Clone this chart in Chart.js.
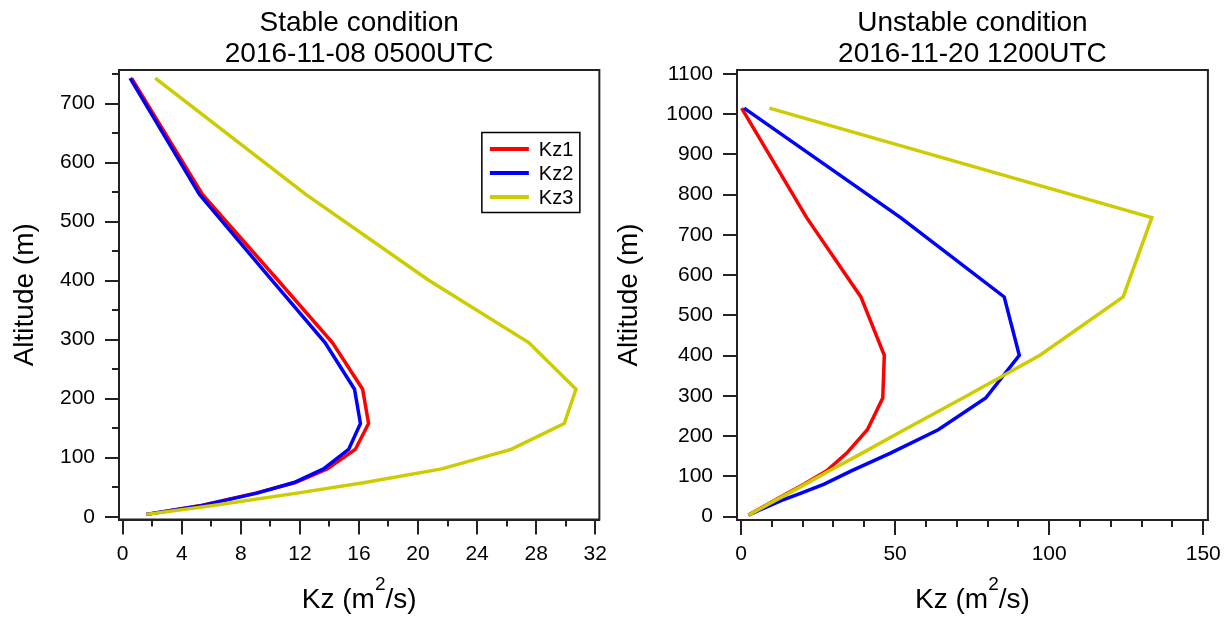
<!DOCTYPE html>
<html>
<head>
<meta charset="utf-8">
<title>Kz profiles</title>
<script src="https://cdn.jsdelivr.net/npm/chart.js@4.4.1/dist/chart.umd.min.js"></script>
<style>
  html, body { margin: 0; padding: 0; background: #fff; }
  #wrap { position: relative; width: 1228px; height: 617px; }
  .panel { position: absolute; top: 0; width: 614px; height: 617px; }
  #stablePanel { left: 0; }
  #unstablePanel { left: 614px; }
</style>
</head>
<body>
<div id="wrap">
  <div class="panel" id="stablePanel"><canvas id="stableChart" width="614" height="617"></canvas></div>
  <div class="panel" id="unstablePanel"><canvas id="unstableChart" width="614" height="617"></canvas></div>
</div>
<script>
// Stable case, 2016-11-08 0500UTC (altitude in m, Kz in m2/s)
const stableAltitude = [4, 18, 40, 58, 81, 114, 158, 216, 295, 401, 546, 743];
const stableKz1 = [1.6, 5.1, 9.0, 11.7, 13.85, 15.75, 16.65, 16.25, 14.2, 10.5, 5.4, 0.6];
const stableKz2 = [1.6, 5.2, 9.1, 11.6, 13.6, 15.3, 16.1, 15.7, 13.7, 10.1, 5.2, 0.5];
const stableKz3 = [1.6, 5.9, 11.8, 16.4, 21.6, 26.3, 29.9, 30.7, 27.5, 20.7, 12.4, 2.2];

// Unstable case, 2016-11-20 1200UTC
const unstableAltitude = [4, 18, 40, 58, 81, 114, 158, 216, 295, 401, 546, 743, 1015];
const unstableKz1 = [2.4, 5.6, 10.8, 15.0, 20.5, 27.8, 34.3, 41.0, 46.0, 46.5, 38.9, 21.3, 0.2];
const unstableKz2 = [2.4, 6.5, 13.0, 19.3, 27.0, 35.8, 48.5, 64.0, 79.4, 90.3, 85.4, 51.8, 1.0];
const unstableKz3 = [2.4, 5.8, 11.0, 15.4, 20.9, 28.7, 39.3, 53.0, 72.0, 97.0, 124.0, 133.3, 9.2];

// tick values
const stableKzTicks = [0, 4, 8, 12, 16, 20, 24, 28, 32];
const stableKzMinor = [2, 6, 10, 14, 18, 22, 26, 30];
const stableAltTicks = [0, 100, 200, 300, 400, 500, 600, 700];
const stableAltMinor = [50, 150, 250, 350, 450, 550, 650, 750];
const unstableKzTicks = [0, 50, 100, 150];
const unstableKzMinor = [10, 20, 30, 40, 60, 70, 80, 90, 110, 120, 130, 140];
const unstableAltTicks = [0, 100, 200, 300, 400, 500, 600, 700, 800, 900, 1000, 1100];

const seriesNames = ['Kz1', 'Kz2', 'Kz3'];
const seriesColors = ['#ff0000', '#0000ff', '#cccc00'];

const FONT = "'Liberation Sans', Arial, sans-serif";
const AXIS_COLOR = '#222';

// two-line heading centred over the plot area
const heading = {
  id: 'heading',
  afterDraw(chart, args, opts) {
    const { ctx, chartArea } = chart;
    const cx = (chartArea.left + chartArea.right) / 2;
    ctx.save();
    ctx.fillStyle = '#000';
    ctx.font = '28px ' + FONT;
    ctx.textAlign = 'center';
    ctx.textBaseline = 'alphabetic';
    (opts.lines || []).forEach((line, i) => {
      ctx.fillText(line, cx, 31 + i * 31.2);
    });
    ctx.restore();
  }
};

// box around the plot area
const frame = {
  id: 'frame',
  afterDraw(chart) {
    const { ctx, chartArea: a } = chart;
    ctx.save();
    ctx.strokeStyle = AXIS_COLOR;
    ctx.lineWidth = 2;
    ctx.strokeRect(a.left, a.top, a.right - a.left, a.bottom - a.top);
    ctx.restore();
  }
};

// short ticks between the labelled ones
const minorTicks = {
  id: 'minorTicks',
  afterDraw(chart, args, opts) {
    const { ctx } = chart;
    const xs = chart.scales.x, ys = chart.scales.y;
    ctx.save();
    ctx.strokeStyle = AXIS_COLOR;
    ctx.lineWidth = 2;
    ctx.beginPath();
    (opts.x || []).forEach(v => {
      const px = Math.round(xs.getPixelForValue(v));
      ctx.moveTo(px, xs.top);
      ctx.lineTo(px, xs.top + opts.length);
    });
    (opts.y || []).forEach(v => {
      const py = Math.round(ys.getPixelForValue(v));
      ctx.moveTo(ys.right, py);
      ctx.lineTo(ys.right - opts.length, py);
    });
    ctx.stroke();
    ctx.restore();
  }
};

// x axis title with a raised exponent
const kzTitle = {
  id: 'kzTitle',
  afterDraw(chart, args, opts) {
    const { ctx, chartArea } = chart;
    const cx = (chartArea.left + chartArea.right) / 2;
    const y = chart.height - opts.bottom;
    const main = '28px ' + FONT, sup = '19px ' + FONT;
    ctx.save();
    ctx.fillStyle = '#000';
    ctx.textBaseline = 'alphabetic';
    ctx.textAlign = 'left';
    ctx.font = main;
    const wa = ctx.measureText('Kz (m').width;
    const wc = ctx.measureText('/s)').width;
    ctx.font = sup;
    const wb = ctx.measureText('2').width;
    let x = cx - (wa + wb + wc) / 2;
    ctx.font = main;
    ctx.fillText('Kz (m', x, y);
    x += wa;
    ctx.font = sup;
    ctx.fillText('2', x, y - 17.5);
    x += wb;
    ctx.font = main;
    ctx.fillText('/s)', x, y);
    ctx.restore();
  }
};

// boxed legend inside the plot area
const boxLegend = {
  id: 'boxLegend',
  afterDraw(chart, args, opts) {
    if (!opts.show) return;
    const { ctx, chartArea } = chart;
    const w = 98, h = 80;
    const left = chartArea.right - opts.right - w;
    const top = chartArea.top + opts.top;
    ctx.save();
    ctx.fillStyle = '#fff';
    ctx.fillRect(left, top, w, h);
    ctx.strokeStyle = '#000';
    ctx.lineWidth = 1.5;
    ctx.strokeRect(left, top, w, h);
    ctx.font = '20px ' + FONT;
    ctx.textBaseline = 'middle';
    ctx.fillStyle = '#000';
    const items = chart.data.datasets.slice().sort((p, q) => p.legendIndex - q.legendIndex);
    items.forEach((ds, i) => {
      const y = top + 16.5 + i * 24;
      ctx.strokeStyle = ds.borderColor;
      ctx.lineWidth = 4;
      ctx.beginPath();
      ctx.moveTo(left + 8, y);
      ctx.lineTo(left + 47, y);
      ctx.stroke();
      ctx.fillText(ds.label, left + 57, y + 1);
    });
    ctx.restore();
  }
};

function buildDatasets(altitude, series) {
  return series.map((values, i) => ({
    label: seriesNames[i],
    legendIndex: i,
    data: values.map((kz, k) => ({ x: kz, y: altitude[k] })),
    borderColor: seriesColors[i],
    backgroundColor: seriesColors[i],
    borderWidth: 3.5,
    borderJoinStyle: 'miter',
    pointRadius: 0,
    showLine: true,
    tension: 0,
    order: 2 - i,
  }));
}

function fixedTicks(values) {
  return (scale) => {
    scale.ticks = values.map(v => ({ value: v }));
  };
}

function makeProfileChart(canvasId, cfg) {
  const ctx = document.getElementById(canvasId).getContext('2d');
  return new Chart(ctx, {
    type: 'scatter',
    data: { datasets: buildDatasets(cfg.altitude, cfg.series) },
    options: {
      responsive: false,
      animation: false,
      layout: { padding: { left: 0, right: cfg.padRight, top: 70, bottom: 0 } },
      plugins: {
        legend: { display: false },
        tooltip: { enabled: false },
        heading: { lines: cfg.title },
        frame: {},
        minorTicks: { x: cfg.kzMinor, y: cfg.altMinor, length: 7 },
        kzTitle: { bottom: 9.5 },
        boxLegend: { show: cfg.legend, right: 19.5, top: 62.5 },
      },
      scales: {
        x: {
          type: 'linear',
          min: cfg.kzRange[0],
          max: cfg.kzRange[1],
          afterBuildTicks: fixedTicks(cfg.kzTicks),
          afterFit: (scale) => { scale.height = cfg.xAxisHeight; },
          border: { display: true, color: AXIS_COLOR, width: 2 },
          grid: { drawOnChartArea: false, drawTicks: true, tickLength: 15, color: AXIS_COLOR, lineWidth: 2 },
          ticks: {
            color: '#000', padding: 7, maxRotation: 0, autoSkip: false,
            font: { family: FONT, size: 21 },
            callback: (v) => String(v),
          },
        },
        y: {
          type: 'linear',
          min: cfg.altRange[0],
          max: cfg.altRange[1],
          afterBuildTicks: fixedTicks(cfg.altTicks),
          afterFit: (scale) => { scale.width = cfg.yAxisWidth; },
          border: { display: true, color: AXIS_COLOR, width: 2 },
          grid: { drawOnChartArea: false, drawTicks: true, tickLength: 14, color: AXIS_COLOR, lineWidth: 2 },
          ticks: {
            color: '#000', padding: 10, autoSkip: false,
            font: { family: FONT, size: 21 },
            callback: (v) => String(v),
          },
          title: {
            display: true,
            text: 'Altitude (m)',
            color: '#000',
            font: { family: FONT, size: 28, lineHeight: 1 },
            padding: { top: cfg.yTitlePad, bottom: 0 },
          },
        },
      },
    },
    plugins: [frame, minorTicks, kzTitle, boxLegend, heading],
  });
}

makeProfileChart('stableChart', {
  title: ['Stable condition', '2016-11-08 0500UTC'],
  altitude: stableAltitude,
  series: [stableKz1, stableKz2, stableKz3],
  kzRange: [-0.25, 32.28],
  altRange: [-4.7, 756.8],
  kzTicks: stableKzTicks,
  kzMinor: stableKzMinor,
  altTicks: stableAltTicks,
  altMinor: stableAltMinor,
  yAxisWidth: 119,
  xAxisHeight: 97.5,
  padRight: 12,
  yTitlePad: 11,
  legend: true,
});

makeProfileChart('unstableChart', {
  title: ['Unstable condition', '2016-11-20 1200UTC'],
  altitude: unstableAltitude,
  series: [unstableKz1, unstableKz2, unstableKz3],
  kzRange: [-1.3, 151.5],
  altRange: [-8.2, 1109.8],
  kzTicks: unstableKzTicks,
  kzMinor: unstableKzMinor,
  altTicks: unstableAltTicks,
  altMinor: [],
  yAxisWidth: 123,
  xAxisHeight: 97,
  padRight: 20,
  yTitlePad: 1,
  legend: false,
});
</script>
</body>
</html>
